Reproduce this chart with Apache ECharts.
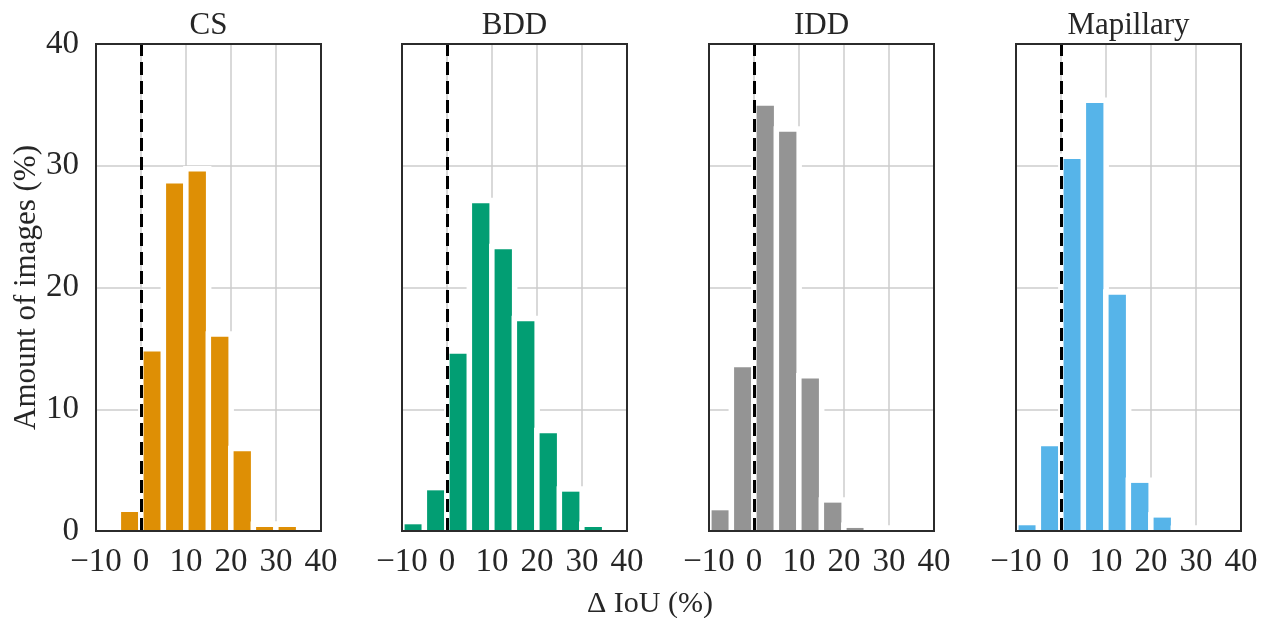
<!DOCTYPE html>
<html>
<head>
<meta charset="utf-8">
<title>Delta IoU histograms</title>
<script src="https://cdn.jsdelivr.net/npm/echarts@6/dist/echarts.min.js"></script>
<style>
  html, body { margin: 0; padding: 0; background: #fff; }
  #chart { width: 1270px; height: 618px; }
</style>
</head>
<body>
<div id="chart"></div>
<script>
// bin centres (bin width 5) shared by every panel
const binCenters = [-7.5, -2.5, 2.5, 7.5, 12.5, 17.5, 22.5, 27.5, 32.5]
const datasets = ['CS', 'BDD', 'IDD', 'Mapillary']
const csValues = [0, 1.56, 14.74, 28.55, 29.53, 15.95, 6.55, 0.33, 0.33]
const bddValues = [0.55, 3.34, 14.55, 26.93, 23.15, 17.23, 8.03, 3.23, 0.33]
const iddValues = [1.70, 13.45, 34.93, 32.79, 12.52, 2.33, 0.25, 0, 0]
const mapillaryValues = [0.47, 6.96, 30.55, 35.15, 19.40, 3.95, 1.10, 0, 0]
const xTicks = [-10, 0, 10, 20, 30, 40]
const yTicks = [0, 10, 20, 30, 40]

const values = [csValues, bddValues, iddValues, mapillaryValues]
const colors = ['#DE8F05', '#029E73', '#949494', '#56B4E9']
const panelLeft = [96, 402, 709, 1016]
const panelWidth = 225
const BIN = 5
const HALO = 5.5
const FONT = "'Liberation Serif', 'Times New Roman', serif"
const TEXT = '#262626'

const chart = echarts.init(document.getElementById('chart'))

function minus(v) {
  return v < 0 ? '\u2212' + Math.abs(v) : String(v)
}

// bar with a white halo behind it, like matplotlib's white edges
function makeRender(color) {
  return function (params, api) {
    const x = api.value(0)
    const y = api.value(1)
    const top = api.coord([x, y])
    const base = api.coord([x, 0])
    const w = api.size([BIN, 0])[0] * 0.77
    const left = top[0] - w / 2
    return {
      type: 'group',
      children: [
        {
          type: 'rect',
          shape: { x: left - HALO, y: top[1] - HALO, width: w + HALO * 2, height: base[1] - top[1] + HALO },
          style: { fill: '#fff' }
        },
        {
          type: 'rect',
          shape: { x: left, y: top[1], width: w, height: base[1] - top[1] },
          style: { fill: color }
        }
      ]
    }
  }
}

const grids = [], xAxes = [], yAxes = [], series = [], titles = []

datasets.forEach((name, i) => {
  grids.push({
    left: panelLeft[i], top: 44, width: panelWidth, height: 487,
    show: true, z: 10,
    backgroundColor: 'transparent',
    borderColor: '#2b2b2b', borderWidth: 2
  })
  xAxes.push({
    gridIndex: i, type: 'value',
    min: xTicks[0], max: xTicks[xTicks.length - 1], interval: 10,
    axisLine: { show: false }, axisTick: { show: false },
    axisLabel: {
      fontFamily: FONT, fontSize: 33, color: TEXT, margin: 15,
      formatter: minus
    },
    splitLine: { lineStyle: { color: '#cccccc', width: 1.5 } }
  })
  yAxes.push({
    gridIndex: i, type: 'value',
    min: yTicks[0], max: yTicks[yTicks.length - 1], interval: 10,
    axisLine: { show: false }, axisTick: { show: false },
    axisLabel: { show: i === 0, fontFamily: FONT, fontSize: 33, color: TEXT, margin: 17 },
    splitLine: { lineStyle: { color: '#cccccc', width: 1.5 } },
    name: i === 0 ? 'Amount of images (%)' : '',
    nameLocation: 'middle',
    nameGap: 53,
    nameTextStyle: { fontFamily: FONT, fontSize: 31, color: TEXT }
  })
  titles.push({
    text: name,
    left: panelLeft[i] + panelWidth / 2 - 5,
    textAlign: 'center',
    top: 5,
    textStyle: { fontFamily: FONT, fontSize: 31, fontWeight: 'normal', color: TEXT }
  })
  series.push({
    type: 'custom',
    name: name,
    xAxisIndex: i,
    yAxisIndex: i,
    renderItem: makeRender(colors[i]),
    encode: { x: 0, y: 1 },
    data: binCenters.map((c, k) => [c, values[i][k]]),
    markLine: {
      silent: true,
      symbol: 'none',
      label: { show: false },
      lineStyle: { color: '#000', width: 3, type: [13, 6] },
      data: [{ xAxis: 0 }]
    }
  })
})

titles.push({
  text: '\u0394 IoU (%)',
  left: 645,
  textAlign: 'center',
  top: 584,
  textStyle: { fontFamily: FONT, fontSize: 30, fontWeight: 'normal', color: TEXT }
})

chart.setOption({
  animation: false,
  title: titles,
  grid: grids,
  xAxis: xAxes,
  yAxis: yAxes,
  series: series
})
</script>
</body>
</html>
